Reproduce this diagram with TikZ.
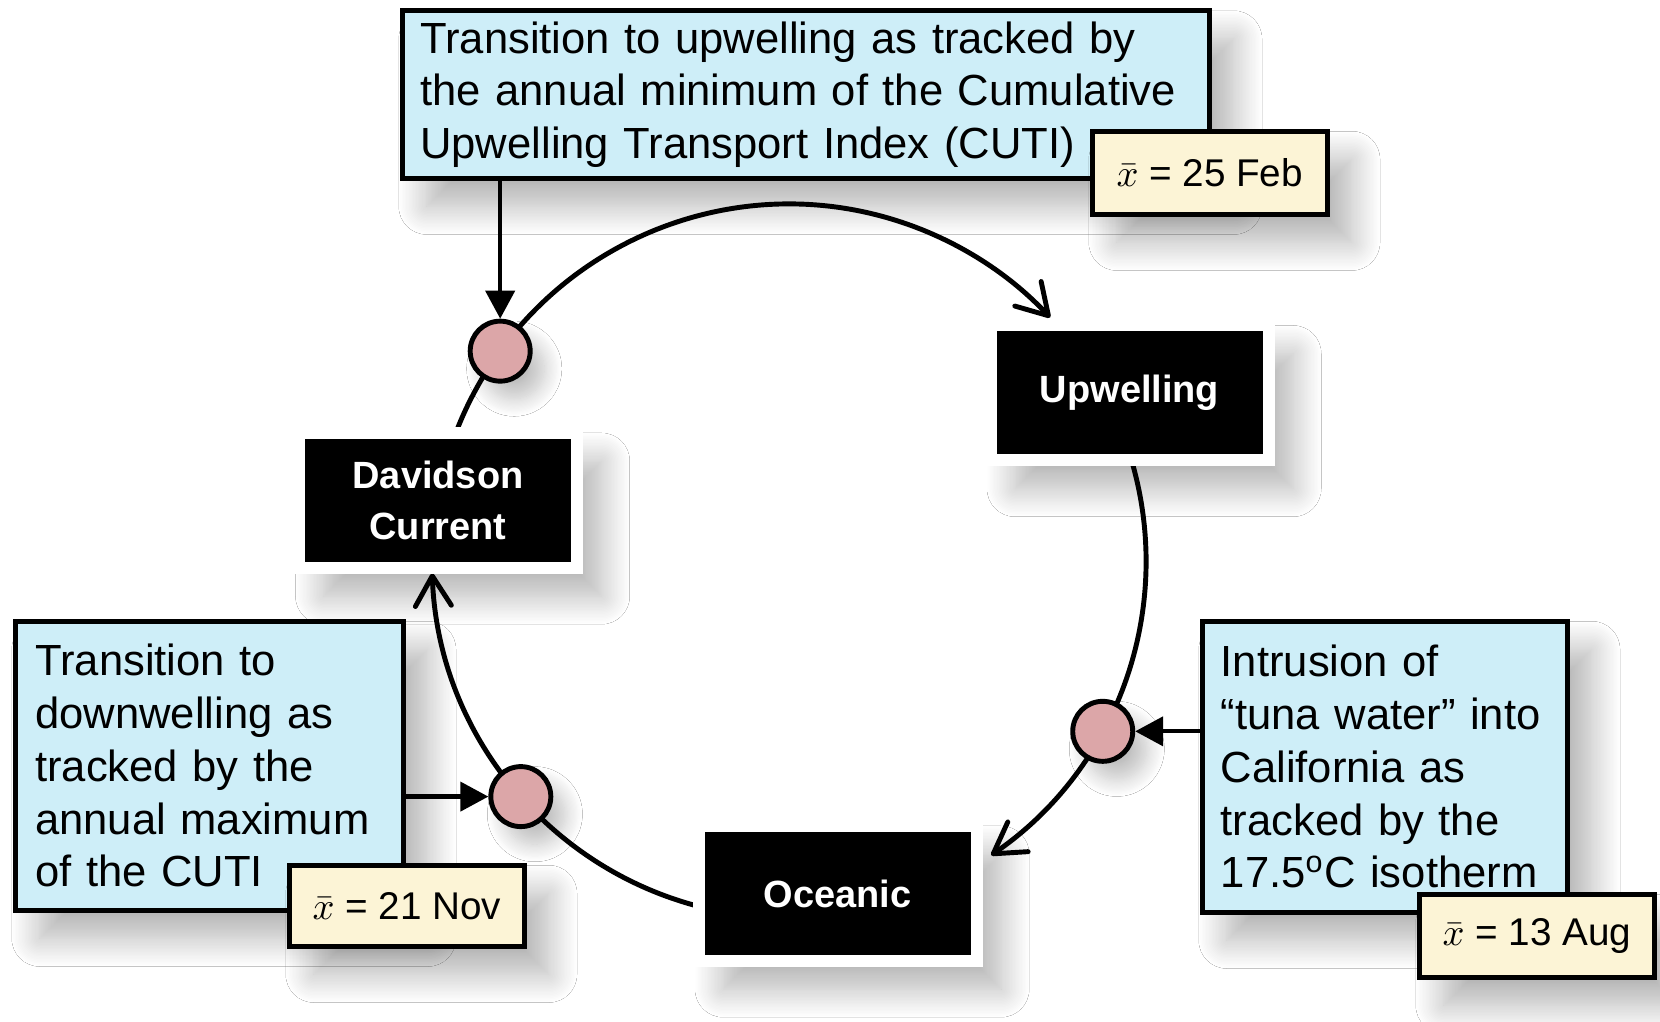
\documentclass[tikz,border=0pt]{standalone}
\usepackage{fontspec}
\setmainfont{Liberation Sans}
\usetikzlibrary{arrows.meta,shadows.blur}
\definecolor{infoblue}{RGB}{206,238,248}
\definecolor{datecream}{RGB}{252,244,214}
\definecolor{dotpink}{RGB}{220,166,168}
\newcommand{\infofont}{\fontsize{12.4}{15}\selectfont}
\newcommand{\statefont}{\fontsize{10.8}{14.7}\selectfont\bfseries}
\newcommand{\datefont}{\fontsize{11}{13}\selectfont}
\begin{document}
\begin{tikzpicture}[
  softshadow/.style={blur shadow={shadow xshift=7pt, shadow yshift=-8pt, shadow blur radius=8pt, shadow blur steps=20, shadow opacity=30}},
  infobox/.style={draw=black, line width=1.3pt, fill=infoblue, align=left,
    anchor=north west, font=\infofont, inner ysep=0pt, softshadow},
  datebox/.style={draw=black, line width=1.3pt, fill=datecream, anchor=north west,
    font=\datefont, minimum width=2.35cm, minimum height=0.83cm, inner sep=0pt,
    softshadow},
  statebox/.style={fill=black, draw=white, line width=0.12cm, text=white,
    font=\statefont, align=center, minimum width=2.78cm, minimum height=1.35cm,
    inner sep=0pt, softshadow},
  dot/.style={circle, draw=black, line width=1.4pt, fill=dotpink, minimum size=0.6cm,
    inner sep=0pt,
    blur shadow={shadow xshift=4pt, shadow yshift=-5pt, shadow blur radius=5pt, shadow blur steps=15, shadow opacity=25}},
  cycle/.style={line width=1.4pt, -{Straight Barb[length=3mm, width=3.6mm, line width=1.4pt, round]}},
  pointer/.style={line width=1.2pt, -{Triangle[length=2.8mm, width=2.9mm]}}
]
\fill[white] (0,0) rectangle (16.6,10.22);
\useasboundingbox (0,0) rectangle (16.6,10.22);

\coordinate (c) at (7.89,4.61);

% the seasonal cycle
\draw[cycle] (c) ++(160:3.57) arc[start angle=160, end angle=43, radius=3.57];
\draw[cycle] (c) ++(20:3.57) arc[start angle=20, end angle=-55.5, radius=3.57];
\draw[cycle] (c) ++(258:3.57) arc[start angle=258, end angle=182, radius=3.57];

% states
\node[statebox] (upw) at (11.295,6.29) {Upwelling};
\node[statebox] (dav) at (4.38,5.215) {Davidson\\Current};
\node[statebox] (oce) at (8.375,1.285) {Oceanic};

% transition markers
\path (c) ++(144:3.57) node[dot] (feb) {};
\path (c) ++(-28.5:3.57) node[dot] (aug) {};
\path (c) ++(221.3:3.57) node[dot] (nov) {};

% descriptions
\node[infobox, text width=7.71cm, inner xsep=0.18cm, minimum height=1.675cm] (topbox) at (4.00,10.135)
  {Transition to upwelling as tracked by\\the annual minimum of the Cumulative\\Upwelling Transport Index (CUTI)};
\node[infobox, text width=3.48cm, inner xsep=0.2cm, minimum height=2.89cm] (novbox) at (0.13,4.03)
  {Transition to\\downwelling as\\tracked by the\\annual maximum\\of the CUTI};
\node[infobox, text width=3.28cm, inner xsep=0.185cm, minimum height=2.91cm] (augbox) at (12.00,4.03)
  {Intrusion of\\“tuna water” into\\California as\\tracked by the\\17.5\textsuperscript{o}C isotherm};

% dates
\node[datebox] (febdate) at (10.90,8.93) {$\bar{x}$ = 25 Feb};
\node[datebox, minimum height=0.81cm] (novdate) at (2.87,1.59) {$\bar{x}$ = 21 Nov};
\node[datebox] (augdate) at (14.17,1.30) {$\bar{x}$ = 13 Aug};

% pointers
\draw[pointer] (feb |- topbox.south) -- (feb.north);
\draw[pointer] (novbox.east |- nov) -- (nov.west);
\draw[pointer] (augbox.west |- aug) -- (aug.east);
\end{tikzpicture}
\end{document}
